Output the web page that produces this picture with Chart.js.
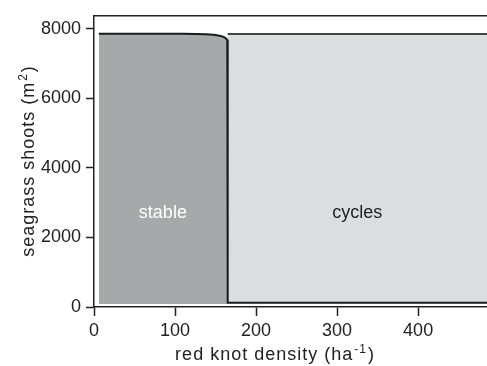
<!DOCTYPE html>
<html>
<head>
<meta charset="utf-8">
<script src="https://cdn.jsdelivr.net/npm/chart.js@4"></script>
<style>
    html, body { margin: 0; padding: 0; background: #fff; }
    #wrap { width: 487px; height: 366px; }
</style>
</head>
<body>
<div id="wrap"><canvas id="myChart" width="487" height="366"></canvas></div>
<script>
// boundary curve between stable and cycles (red knot density vs seagrass shoots)
const curveX = [6, 110, 125, 138, 148, 155, 160, 163, 164.5, 165, 165, 485];
const curveY = [7855, 7855, 7850, 7840, 7822, 7798, 7765, 7720, 7670, 7600, 120, 120];

// cycles region
const cyclesX = [165, 485];
const cyclesTop = 7850;
const cyclesBottom = 120;
const stableBottom = 85;

const xTicks = [0, 100, 200, 300, 400];
const yTicks = [0, 2000, 4000, 6000, 8000];

const regionLabels = [
    { text: 'stable', x: 85, y: 2700, color: '#ffffff' },
    { text: 'cycles', x: 325, y: 2700, color: '#222222' }
];

const xTitle = ['red knot density (ha', '-1', ')'];
const yTitle = ['seagrass shoots (m', '2', ')'];

const font = 'Liberation Sans';

const linePoints = curveX.map((x, i) => ({ x: x, y: curveY[i] }));
const stablePoints = [];
for (let i = 0; i < curveX.length; i++) {
    if (curveX[i] <= 165 && curveY[i] > cyclesBottom) {
        stablePoints.push({ x: curveX[i], y: curveY[i] });
    }
}
stablePoints.push({ x: 165, y: stableBottom });
const cyclesPoints = cyclesX.map(x => ({ x: x, y: cyclesTop }));

// draws "main" + raised small "sup" + "tail" centred on (0,0) baseline
function drawSupText(ctx, parts, size) {
    const big = size + 'px "' + font + '"';
    const small = Math.round(size * 0.65) + 'px "' + font + '"';
    ctx.font = big;
    let w0 = ctx.measureText(parts[0]).width;
    ctx.font = small;
    let w1 = ctx.measureText(parts[1]).width;
    ctx.font = big;
    let w2 = ctx.measureText(parts[2]).width;
    let total = w0 + w1 + w2 + 2;
    let x = -total / 2;
    ctx.font = big;
    ctx.fillText(parts[0], x, 0);
    ctx.font = small;
    ctx.fillText(parts[1], x + w0 + 1, -size * 0.38);
    ctx.font = big;
    ctx.fillText(parts[2], x + w0 + w1 + 2, 0);
}

const extras = {
    id: 'extras',
    afterDatasetsDraw(chart) {
        const ctx = chart.ctx;
        const xs = chart.scales.x;
        const ys = chart.scales.y;
        const area = chart.chartArea;
        ctx.save();
        // top frame line
        ctx.strokeStyle = '#222';
        ctx.lineWidth = 1.5;
        ctx.beginPath();
        ctx.moveTo(area.left, area.top);
        ctx.lineTo(area.right, area.top);
        ctx.stroke();

        ctx.font = '18px "' + font + '"';
        ctx.textAlign = 'center';
        ctx.textBaseline = 'alphabetic';
        for (let lab of regionLabels) {
            ctx.fillStyle = lab.color;
            ctx.fillText(lab.text, xs.getPixelForValue(lab.x), ys.getPixelForValue(lab.y) + 5);
        }

        // axis titles
        ctx.fillStyle = '#222';
        ctx.textAlign = 'left';
        ctx.letterSpacing = '1px';
        ctx.save();
        ctx.translate(275, 360);
        drawSupText(ctx, xTitle, 18);
        ctx.restore();
        ctx.save();
        ctx.translate(34, 161);
        ctx.rotate(-Math.PI / 2);
        drawSupText(ctx, yTitle, 18);
        ctx.restore();
        ctx.restore();
    }
};

var ctx = document.getElementById('myChart').getContext('2d');
var myChart = new Chart(ctx, {
    type: 'line',
    data: {
        datasets: [
            {
                label: 'boundary',
                data: linePoints,
                borderColor: '#1a1a1a',
                borderWidth: 2,
                pointRadius: 0,
                fill: false,
                tension: 0
            },
            {
                label: 'cycles',
                data: cyclesPoints,
                borderColor: '#444444',
                borderWidth: 2,
                backgroundColor: '#dcdddf',
                pointRadius: 0,
                fill: { value: cyclesBottom },
                tension: 0
            },
            {
                label: 'stable',
                data: stablePoints,
                borderWidth: 0,
                borderColor: 'rgba(0,0,0,0)',
                backgroundColor: '#a7a8aa',
                pointRadius: 0,
                fill: { value: stableBottom },
                tension: 0
            }
        ]
    },
    plugins: [extras],
    options: {
        responsive: false,
        animation: false,
        layout: { padding: { top: 10, right: 0, left: 0, bottom: 0 } },
        plugins: {
            legend: { display: false },
            tooltip: { enabled: false }
        },
        scales: {
            x: {
                type: 'linear',
                min: 0,
                max: 485,
                afterFit: s => { s.height = 59; },
                afterBuildTicks: s => { s.ticks = xTicks.map(v => ({ value: v })); },
                grid: { drawOnChartArea: false, tickLength: 9, color: '#222', tickWidth: 1.5 },
                border: { color: '#222', width: 1.5 },
                ticks: { font: { family: font, size: 18 }, color: '#222', padding: 4, maxRotation: 0, callback: v => String(v) }
            },
            y: {
                min: 0,
                max: 8370,
                afterFit: s => { s.width = 94; },
                afterBuildTicks: s => { s.ticks = yTicks.map(v => ({ value: v })); },
                grid: { drawOnChartArea: false, tickLength: 8, color: '#222', tickWidth: 1.5 },
                border: { color: '#222', width: 1.5 },
                ticks: { font: { family: font, size: 18 }, color: '#222', padding: 5, callback: v => String(v) }
            }
        }
    }
});
</script>
</body>
</html>
